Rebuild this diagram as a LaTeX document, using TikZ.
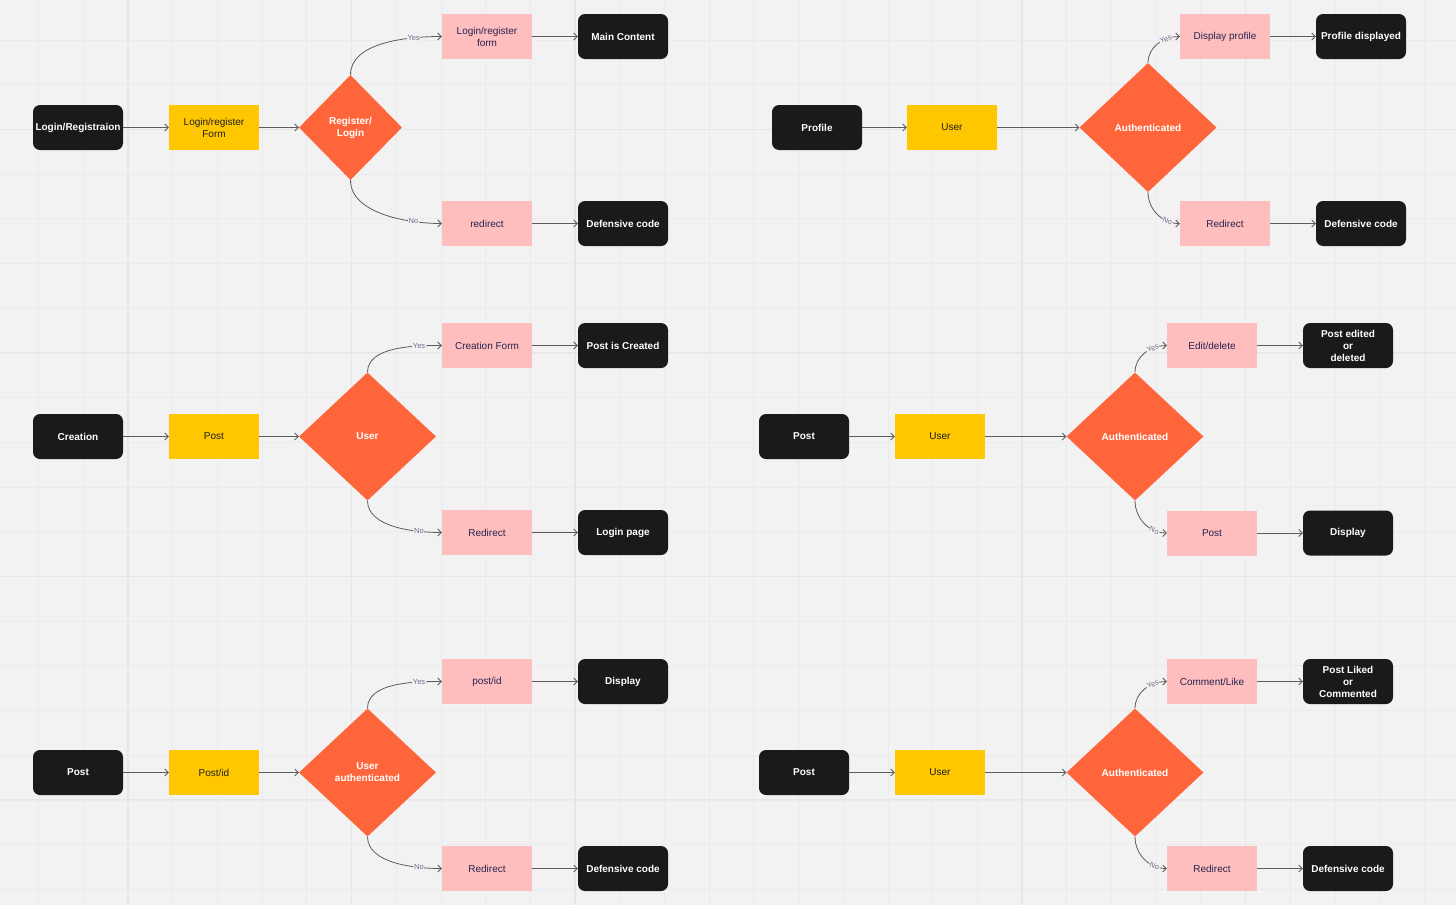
\documentclass[tikz,border=0pt]{standalone}
\usepackage{fontspec}
\setmainfont{Liberation Sans}
\usetikzlibrary{arrows,arrows.meta,shapes.geometric}

\definecolor{canvas}{HTML}{F2F2F2}
\definecolor{gridminor}{HTML}{EBEBEB}
\definecolor{gridmajor}{HTML}{E6E6E6}
\definecolor{boxblack}{HTML}{1A1A1A}
\definecolor{boxyellow}{HTML}{FFC700}
\definecolor{boxorange}{HTML}{FF653B}
\definecolor{boxpink}{HTML}{FFBEBE}
\definecolor{textnavy}{HTML}{27224F}
\definecolor{textdark}{HTML}{1E1E1E}
\definecolor{linegray}{HTML}{5C5C5C}
\definecolor{labelgray}{HTML}{6E6A8E}

\tikzset{
  box/.style={minimum width=90pt, minimum height=45pt, inner sep=2pt,
    align=center, font=\fontsize{10}{12}\selectfont},
  endbox/.style={box, fill=boxblack, text=white, rounded corners=7pt,
    font=\fontsize{10}{12}\selectfont\bfseries},
  formbox/.style={box, fill=boxyellow, text=textdark},
  stepbox/.style={box, fill=boxpink, text=textnavy},
  decision/.style={diamond, fill=boxorange, text=white, inner sep=0pt,
    align=center, font=\fontsize{10}{12}\selectfont\bfseries},
  flow/.style={draw=linegray, line width=0.8pt,
    -{Straight Barb[length=3.5pt,width=7pt]}},
  answer/.style={font=\fontsize{7.5}{9}\selectfont, text=labelgray,
    fill=canvas, inner sep=0.6pt},
}

\begin{document}
\begin{tikzpicture}[x=1pt,y=1pt]
\fill[canvas] (0,0) rectangle (1456,-905);
\useasboundingbox (0,0) rectangle (1456,-905);
% grid
\foreach \i in {0,...,32}
  \draw[gridminor, line width=0.8pt] ({38.6+44.7*\i},0) -- ++(0,-905);
\foreach \j in {0,...,19}
  \draw[gridminor, line width=0.8pt] (0,{-40-44.7*\j}) -- ++(1456,0);
\foreach \i in {2,7,12,17,22,27,32}
  \draw[gridmajor, line width=1.1pt] ({38.6+44.7*\i},0) -- ++(0,-905);
\foreach \j in {2,7,12,17}
  \draw[gridmajor, line width=1.1pt] (0,{-40-44.7*\j}) -- ++(1456,0);

% login / registration
\node[endbox] (start1) at (78,-127.5) {Login/Registraion};
\node[formbox] (form1) at (214,-127.5) {Login/register\\Form};
\node[decision, minimum width=103pt, minimum height=105pt] (dec1) at (350.5,-127.5) {Register/\\Login};
\node[stepbox] (yes1) at (487,-36.5) {Login/register\\form};
\node[endbox] (yesend1) at (623,-36.5) {Main Content};
\node[stepbox] (no1) at (487,-223.5) {redirect};
\node[endbox] (noend1) at (623,-223.5) {Defensive code};

% profile
\node[endbox] (start2) at (817,-127.5) {Profile};
\node[formbox] (form2) at (952,-127.5) {User};
\node[decision, minimum width=137pt, minimum height=129pt] (dec2) at (1148,-127.5) {Authenticated};
\node[stepbox] (yes2) at (1225,-36.5) {Display profile};
\node[endbox] (yesend2) at (1361,-36.5) {Profile displayed};
\node[stepbox] (no2) at (1225,-223.5) {Redirect};
\node[endbox] (noend2) at (1361,-223.5) {Defensive code};

% creation
\node[endbox] (start3) at (78,-436.5) {Creation};
\node[formbox] (form3) at (214,-436.5) {Post};
\node[decision, minimum width=137pt, minimum height=128pt] (dec3) at (367.5,-436.5) {User};
\node[stepbox] (yes3) at (487,-345.5) {Creation Form};
\node[endbox] (yesend3) at (623,-345.5) {Post is Created};
\node[stepbox] (no3) at (487,-532.5) {Redirect};
\node[endbox] (noend3) at (623,-532.5) {Login page};

% edit / delete
\node[endbox] (start4) at (804,-436.5) {Post};
\node[formbox] (form4) at (940,-436.5) {User};
\node[decision, minimum width=137pt, minimum height=128pt] (dec4) at (1135,-436.5) {Authenticated};
\node[stepbox] (yes4) at (1212,-345.5) {Edit/delete};
\node[endbox] (yesend4) at (1348,-345.5) {Post edited\\or\\deleted};
\node[stepbox] (no4) at (1212,-533) {Post};
\node[endbox] (noend4) at (1348,-533) {Display};

% post by id
\node[endbox] (start5) at (78,-772.5) {Post};
\node[formbox] (form5) at (214,-772.5) {Post/id};
\node[decision, minimum width=137pt, minimum height=128pt] (dec5) at (367.5,-772.5) {User\\authenticated};
\node[stepbox] (yes5) at (487,-681.5) {post/id};
\node[endbox] (yesend5) at (623,-681.5) {Display};
\node[stepbox] (no5) at (487,-868.5) {Redirect};
\node[endbox] (noend5) at (623,-868.5) {Defensive code};

% comment / like
\node[endbox] (start6) at (804,-772.5) {Post};
\node[formbox] (form6) at (940,-772.5) {User};
\node[decision, minimum width=137pt, minimum height=128pt] (dec6) at (1135,-772.5) {Authenticated};
\node[stepbox] (yes6) at (1212,-681.5) {Comment/Like};
\node[endbox] (yesend6) at (1348,-681.5) {Post Liked\\or\\Commented};
\node[stepbox] (no6) at (1212,-868.5) {Redirect};
\node[endbox] (noend6) at (1348,-868.5) {Defensive code};

% connectors
\foreach \i in {1,...,6} {
  \draw[flow] (start\i) -- (form\i);
  \draw[flow] (form\i) -- (dec\i);
  \draw[flow] (yes\i) -- (yesend\i);
  \draw[flow] (no\i) -- (noend\i);
}
\foreach \i in {1,3,5} {
  \draw[flow] (dec\i.north) to[out=90, in=180, looseness=0.85]
    node[answer, pos=0.75] {Yes} (yes\i.west);
  \draw[flow] (dec\i.south) to[out=-90, in=180, looseness=0.85]
    node[answer, pos=0.75] {No} (no\i.west);
}
\foreach \i in {2,4,6} {
  \draw[flow] (dec\i.north) to[out=90, in=180]
    node[answer, sloped, pos=0.7] {Yes} (yes\i.west);
  \draw[flow] (dec\i.south) to[out=-90, in=180]
    node[answer, sloped, pos=0.75] {No} (no\i.west);
}
\end{tikzpicture}
\end{document}
